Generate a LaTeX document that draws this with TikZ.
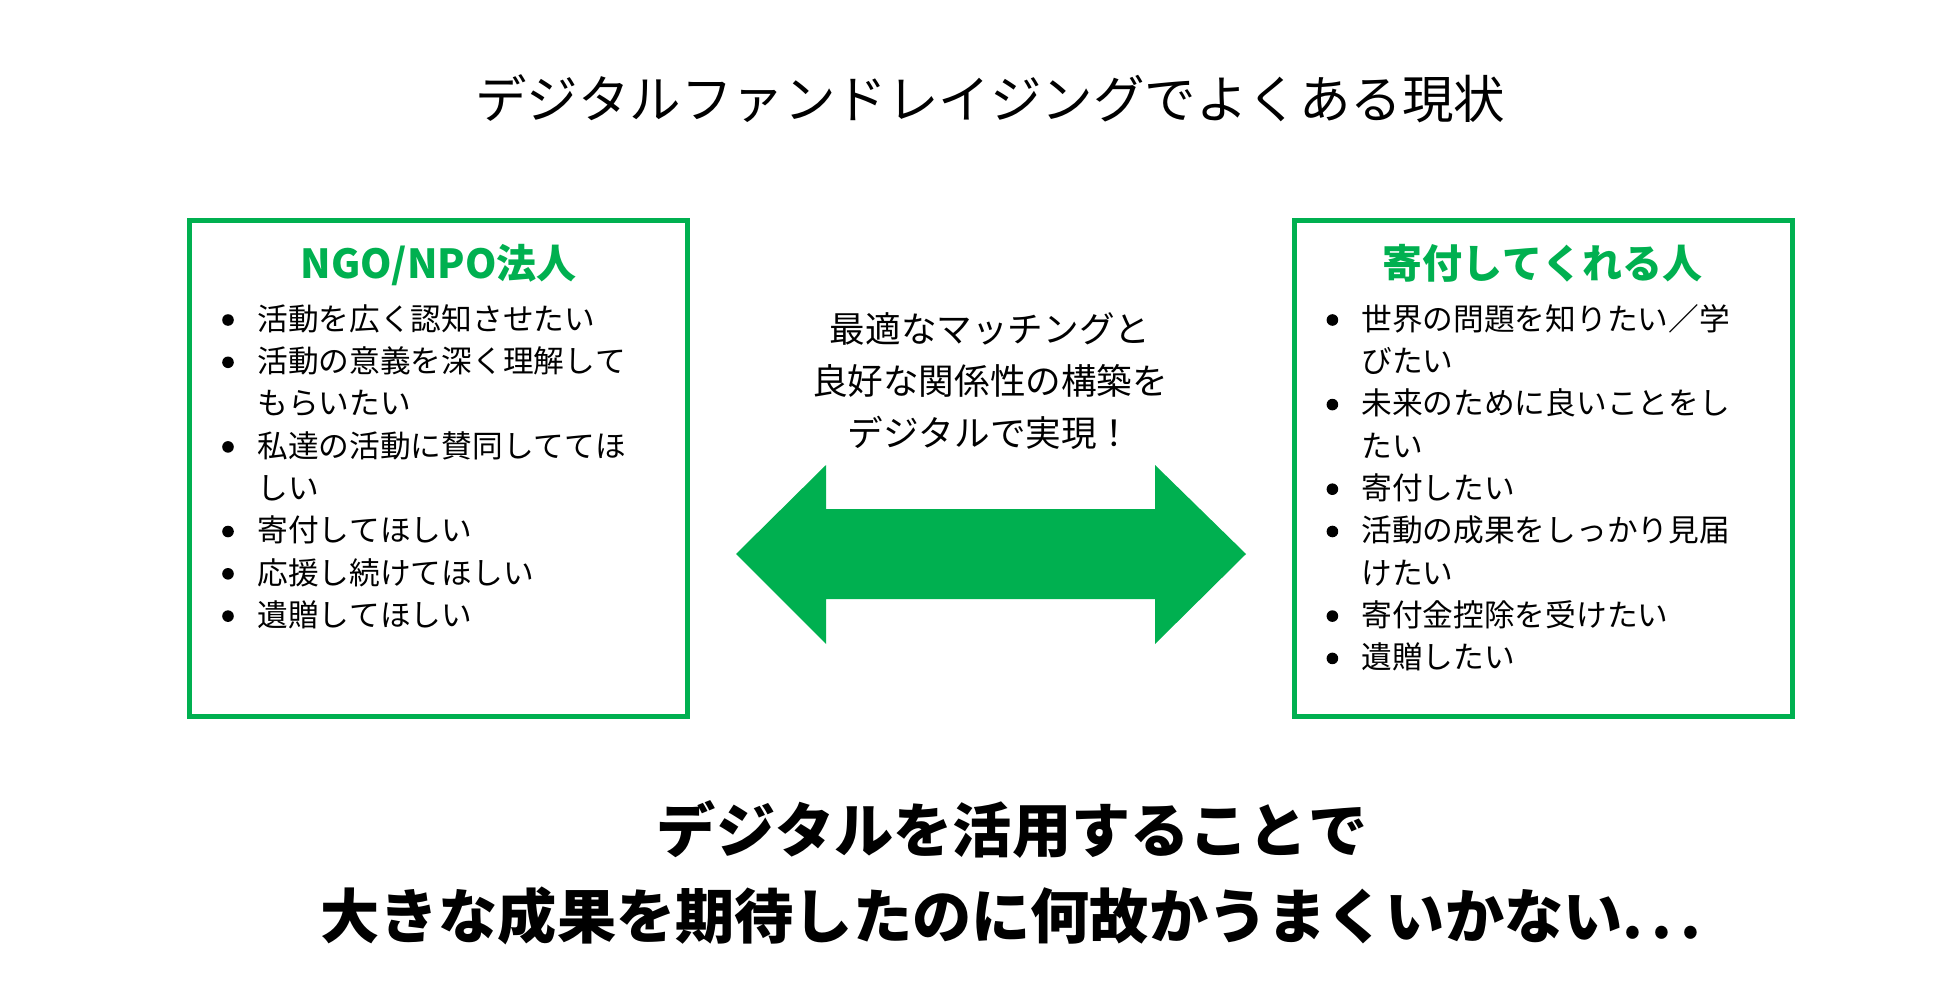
\documentclass[tikz,border=0pt]{standalone}
\usepackage{fontspec}
\setmainfont{Noto Sans CJK JP}[Kerning=Off]
\usepackage{xcolor}
\definecolor{ngreen}{HTML}{00B050}
\usetikzlibrary{positioning}
\newcommand{\tridots}{.\kern0.14em.\kern0.14em.}

\begin{document}
\begin{tikzpicture}[
  x=0.5pt, y=-0.5pt,
  headline/.style={font=\fontsize{25.75pt}{30pt}\selectfont,
                   inner sep=0pt, anchor=base},
  panel/.style={draw=ngreen, line width=2.5pt, inner sep=0pt,
                minimum width=249pt, minimum height=248pt},
  paneltitle/.style={font=\fontsize{20pt}{24pt}\selectfont\bfseries,
                     text=ngreen, inner sep=0pt, anchor=base},
  itemtext/.style={font=\fontsize{15.35pt}{20pt}\selectfont,
                   inner sep=0pt, anchor=base west},
  dot/.style={circle, fill=black, inner sep=0pt, minimum size=5.8pt},
  midtext/.style={font=\fontsize{17.8pt}{26pt}\selectfont,
                  inner sep=0pt, anchor=base},
  punch/.style={font=\fontsize{29.6pt}{36pt}\selectfont\bfseries,
                inner sep=0pt, anchor=base}
]
  \fill[white] (0,0) rectangle (1950,995);
  \useasboundingbox (0,0) rectangle (1950,995);

  % heading
  \node[headline] (head) at (990,118.5)
    {デジタルファンドレイジングでよくある現状};

  % the two panels
  \node[panel] (ngo)   at (438.75,468)  {};
  \node[panel] (donor) at (1543.25,468) {};

  \node[paneltitle] (ngotitle)   at (438.75,278.7)  {NGO/NPO法人};
  \node[paneltitle] (donortitle) at (1542,278.7) {寄付してくれる人};

  \foreach \row/\bul/\txt in {0/1/活動を広く認知させたい,
      1/1/活動の意義を深く理解して, 2/0/もらいたい,
      3/1/私達の活動に賛同しててほ, 4/0/しい,
      5/1/寄付してほしい, 6/1/応援し続けてほしい,
      7/1/遺贈してほしい}{
    \node[itemtext] (ngo-\row) at (257,330.2+42.3*\row) {\txt};
    \ifnum\bul=1
      \node[dot] (ngo-b\row) at (228,320+42.3*\row) {};
    \fi
  }

  \foreach \row/\bul/\txt in {0/1/世界の問題を知りたい／学,
      1/0/びたい, 2/1/未来のために良いことをし, 3/0/たい,
      4/1/寄付したい, 5/1/活動の成果をしっかり見届,
      6/0/けたい, 7/1/寄付金控除を受けたい,
      8/1/遺贈したい}{
    \node[itemtext] (donor-\row) at (1361,330.2+42.3*\row) {\txt};
    \ifnum\bul=1
      \node[dot] (donor-b\row) at (1332.4,320+42.3*\row) {};
    \fi
  }

  % middle message and double arrow
  \node[midtext] (mid1) at (990,342.5) {最適なマッチングと};
  \node[midtext] (mid2) at (990,394.5) {良好な関係性の構築を};
  \node[midtext] (mid3) at (990,446.5) {デジタルで実現！};

  \fill[ngreen] (736,554) -- (826,465) -- (826,509) -- (1155,509)
    -- (1155,465) -- (1246,554) -- (1155,644) -- (1155,599)
    -- (826,599) -- (826,644) -- cycle;

  % closing statement
  \node[punch] (punch1) at (1012,852) {デジタルを活用することで};
  \node[punch] (punch2) at (1011,938.5)
    {大きな成果を期待したのに何故かうまくいかない\tridots};
\end{tikzpicture}
\end{document}
